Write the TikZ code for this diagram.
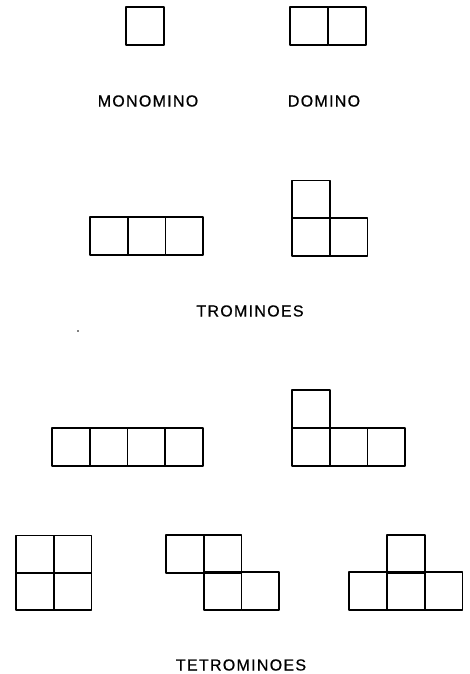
\documentclass[tikz,border=0pt]{standalone}
\usepackage{fontspec}
\newfontfamily\labfont[LetterSpace=8,FakeBold=0.6]{Liberation Sans}
\begin{document}
\begin{tikzpicture}[x=1pt,y=-1pt,
  cell/.style={draw=black, line width=1.8pt, line join=round},
  lab/.style={font=\labfont\fontsize{16}{19}\selectfont, text=black, inner sep=0pt}]
\useasboundingbox (0,0) rectangle (469,674);
\def\u{37.7}
\newcommand\cellat[2]{\draw[cell] (#1,#2) rectangle ++(\u,\u);}
% monomino
\cellat{126}{7}
% domino
\cellat{290}{7}\cellat{328.5}{7}
\node[lab] (monolab) at (148,101) {MONOMINO};
\node[lab] (dominolab) at (324,101) {DOMINO};
% straight tromino
\cellat{90}{217}\cellat{127.7}{217}\cellat{165.4}{217}
% L tromino
\cellat{292}{180.5}\cellat{292}{218.2}\cellat{329.7}{218.2}
\node[lab] (trolab) at (250,311) {TROMINOES};
\fill (78,331) circle (0.8);
% straight tetromino
\cellat{52}{428}\cellat{89.7}{428}\cellat{127.4}{428}\cellat{165.1}{428}
% L tetromino
\cellat{292}{390.3}\cellat{292}{428}\cellat{329.7}{428}\cellat{367.4}{428}
% square
\cellat{16}{535.5}\cellat{53.7}{535.5}\cellat{16}{572.5}\cellat{53.7}{572.5}
% skew
\cellat{166}{535}\cellat{203.7}{535}\cellat{203.7}{572}\cellat{241.4}{572}
% T
\cellat{387}{535}\cellat{349.3}{572}\cellat{387}{572}\cellat{424.7}{572}
\node[lab] (tetlab) at (241,665) {TETROMINOES};
\end{tikzpicture}
\end{document}
